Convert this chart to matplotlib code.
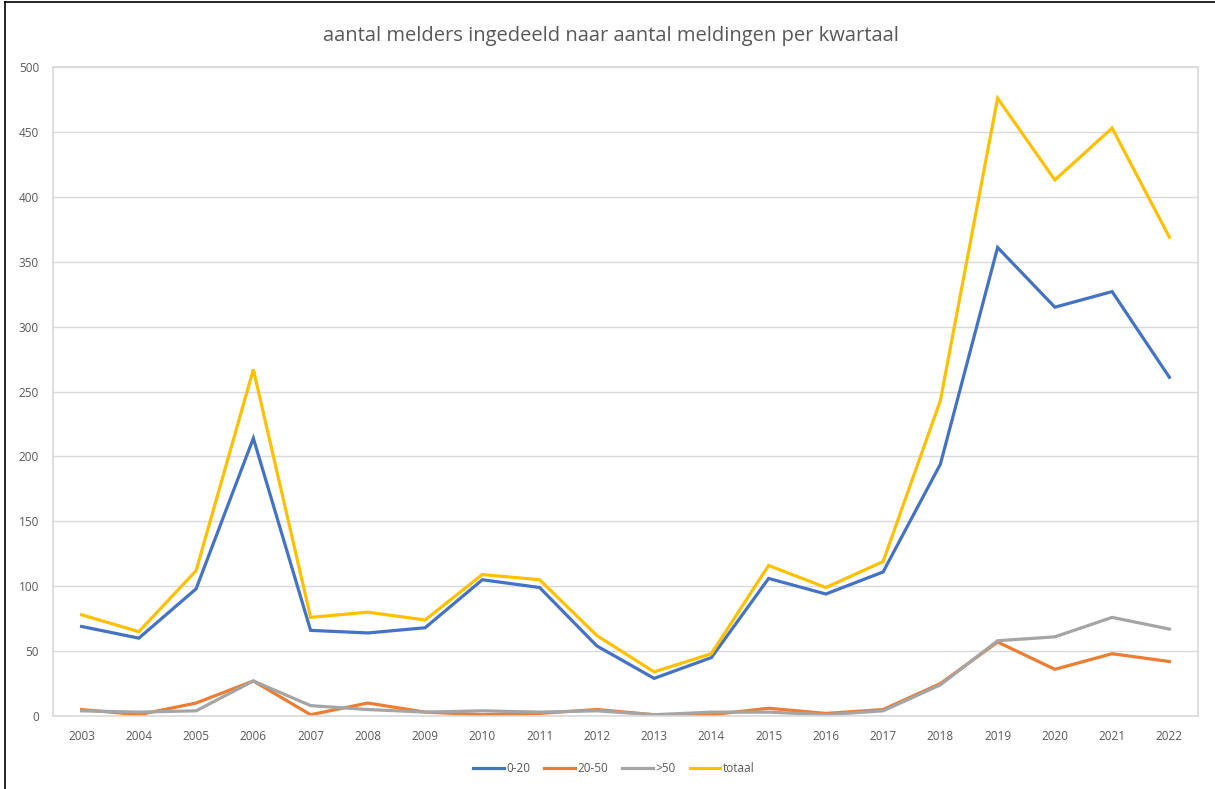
import matplotlib
matplotlib.use('Agg')
import matplotlib.pyplot as plt
from matplotlib.lines import Line2D

years = [str(y) for y in range(2003, 2023)]
s_0_20 = [69, 60, 98, 214, 66, 64, 68, 105, 99, 54, 29, 45, 106, 94, 111, 194, 361, 315, 327, 261]
s_20_50 = [5, 1, 10, 27, 1, 10, 3, 1, 2, 5, 1, 1, 6, 2, 5, 25, 57, 36, 48, 42]
s_gt50 = [4, 3, 4, 27, 8, 5, 3, 4, 3, 4, 1, 3, 3, 1, 4, 24, 58, 61, 76, 67]
totaal = [78, 65, 112, 267, 76, 80, 74, 109, 105, 62, 34, 48, 116, 99, 119, 243, 476, 413, 453, 369]

series = [
    ('0-20', s_0_20, '#4472C4'),
    ('20-50', s_20_50, '#ED7D31'),
    ('>50', s_gt50, '#A5A5A5'),
    ('totaal', totaal, '#FFC000'),
]

plt.rcParams['font.family'] = ['Open Sans', 'DejaVu Sans']

fig = plt.figure(figsize=(12.15, 7.89), dpi=100)
ax = fig.add_axes([0.0436, 0.0925, 0.9424, 0.8225])

x = list(range(len(years)))
for name, vals, col in series:
    ax.plot(x, vals, color=col, lw=2.3, label=name, solid_joinstyle='miter')

ax.set_xlim(-0.5, len(years) - 0.5)
ax.set_ylim(0, 500)
ax.set_yticks(range(0, 501, 50))
ax.set_xticks(x)
ax.set_xticklabels(years)
ax.grid(axis='y', color='#d9d9d9', lw=1)
ax.set_axisbelow(True)
for sp in ax.spines.values():
    sp.set_color('#d9d9d9')
    sp.set_linewidth(1.2)
ax.tick_params(length=0, labelsize=8.5, colors='#595959', pad=10)
ax.tick_params(axis='y', pad=10)

fig.text(0.503, 0.955, 'aantal melders ingedeeld naar aantal meldingen per kwartaal',
         ha='center', va='center', fontsize=14.5, color='#595959')

fig.legend(loc='center', bbox_to_anchor=(0.505, 0.026), ncol=4, frameon=False,
           fontsize=8.5, labelcolor='#595959', handlelength=2.6, handletextpad=0.2,
           columnspacing=1.2)

# screenshot border on left and top
fig.add_artist(Line2D([0.004, 0.004], [0, 0.997], color='black', lw=1.2, transform=fig.transFigure))
fig.add_artist(Line2D([0.004, 1], [0.997, 0.997], color='black', lw=1.2, transform=fig.transFigure))

fig.savefig('out.png', dpi=100)
